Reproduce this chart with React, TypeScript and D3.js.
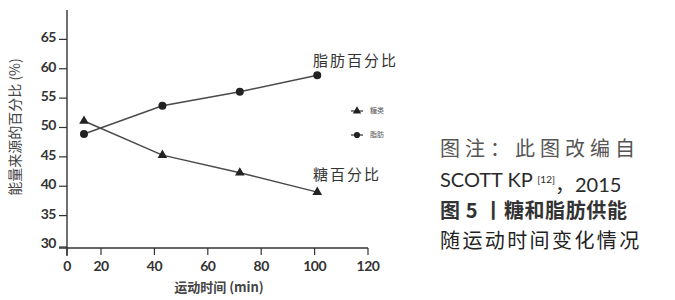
import React, { useEffect, useRef } from 'react';
import * as d3 from 'd3';

const times = [10, 43, 72, 101];
const fatPct = [48.9, 53.7, 56.1, 58.9];
const sugarPct = [51.1, 45.3, 42.3, 39.0];
const xTicks = [0, 20, 40, 60, 80, 100, 120];
const yTicks = [30, 35, 40, 45, 50, 55, 60, 65];
const noteLines = ['图注：此图改编自', 'SCOTT KP', '图 5 丨糖和脂肪供能', '随运动时间变化情况'];

const cjk = '"Noto Sans CJK SC", "Noto Sans", sans-serif';
const num = 'Lato, "Open Sans", sans-serif';
const ink = '#333';

const App: React.FC = () => {
  const svgRef = useRef<SVGSVGElement>(null);

  useEffect(() => {
    if (!svgRef.current) return;
    const svg = d3.select(svgRef.current);
    svg.selectAll('*').remove();

    // the x axis is broken between 0 and 20 (0 sits on the y axis)
    const x = d3.scaleLinear().domain([0, 20, 120]).range([67, 101, 368]);
    const y = d3.scaleLinear().domain([30, 70]).range([245, 10]);
    const axisY = 248;

    // y axis
    const ya = svg.append('g').attr('transform', `translate(${x(0)},0)`);
    ya.append('line').attr('y1', y(70)).attr('y2', axisY + 8)
      .attr('stroke', ink).attr('stroke-width', 1.4);
    yTicks.forEach(t => {
      const yy = t === 30 ? axisY - 1 : y(t);
      ya.append('line').attr('x1', -8).attr('x2', 0).attr('y1', yy).attr('y2', yy)
        .attr('stroke', ink).attr('stroke-width', 1.2);
      ya.append('text').attr('x', -11).attr('y', y(t) - 2).attr('dy', '0.35em')
        .attr('text-anchor', 'end').style('font-family', num).style('font-size', '14px')
        .style('font-weight', 'bold').style('letter-spacing', '-0.5px').style('fill', ink).text(t);
    });

    // x axis
    const xa = svg.append('g').attr('transform', `translate(0,${axisY})`);
    xa.append('line').attr('x1', x(0) - 8).attr('x2', x(120))
      .attr('stroke', ink).attr('stroke-width', 1.4);
    xTicks.forEach(t => {
      xa.append('line').attr('x1', x(t)).attr('x2', x(t)).attr('y1', 0).attr('y2', 7)
        .attr('stroke', ink).attr('stroke-width', 1.2);
      xa.append('text').attr('x', x(t)).attr('y', 18).attr('dy', '0.35em')
        .attr('text-anchor', 'middle').style('font-family', num).style('font-size', '14px')
        .style('font-weight', 'bold').style('letter-spacing', '-0.5px').style('fill', ink).text(t);
    });

    // axis titles
    svg.append('text').attr('x', 219).attr('y', 287).attr('dy', '0.35em')
      .attr('text-anchor', 'middle').style('font-family', cjk).style('font-size', '13px')
      .style('font-weight', 'bold').style('fill', '#444').text('运动时间 (min)');
    svg.append('text').attr('transform', 'translate(15,127) rotate(-90)').attr('dy', '0.35em')
      .attr('text-anchor', 'middle').style('font-family', cjk).style('font-size', '14px')
      .style('fill', '#444').text('能量来源的百分比 (%)');

    const line = d3.line<number>().x((_, i) => x(times[i])).y(d => y(d));
    const tri = d3.symbol().type(d3.symbolTriangle).size(40);
    const dot = d3.symbol().type(d3.symbolCircle).size(50);

    [sugarPct, fatPct].forEach(series => {
      svg.append('path').datum(series).attr('d', line)
        .attr('fill', 'none').attr('stroke', '#4a4a4a').attr('stroke-width', 1.5);
    });
    svg.selectAll('.tri').data(sugarPct).enter().append('path').attr('class', 'tri')
      .attr('d', tri).attr('transform', (d, i) => `translate(${x(times[i])},${y(d)})`)
      .attr('fill', '#222');
    svg.selectAll('.dot').data(fatPct).enter().append('path').attr('class', 'dot')
      .attr('d', dot).attr('transform', (d, i) => `translate(${x(times[i])},${y(d)})`)
      .attr('fill', '#222');

    // labels at line ends
    svg.append('text').attr('x', 313).attr('y', 61).attr('dy', '0.35em')
      .style('font-family', cjk).style('font-size', '15px').style('letter-spacing', '2px')
      .style('fill', ink).text('脂肪百分比');
    svg.append('text').attr('x', 313).attr('y', 175).attr('dy', '0.35em')
      .style('font-family', cjk).style('font-size', '15px').style('letter-spacing', '2px')
      .style('fill', ink).text('糖百分比');

    // legend
    const legend = [{ label: '糖类', sym: tri, yy: 111 }, { label: '脂肪', sym: dot, yy: 135 }];
    legend.forEach(l => {
      svg.append('line').attr('x1', 351).attr('x2', 363).attr('y1', l.yy).attr('y2', l.yy)
        .attr('stroke', '#333').attr('stroke-width', 1.2);
      svg.append('path').attr('d', l.sym.size(30)).attr('transform', `translate(357,${l.yy})`)
        .attr('fill', '#222');
      svg.append('text').attr('x', 370).attr('y', l.yy).attr('dy', '0.35em')
        .style('font-family', cjk).style('font-size', '7px').style('fill', '#555').text(l.label);
    });

    // side note
    const note = svg.append('g').style('font-family', cjk).style('font-size', '20px');
    note.append('text').attr('x', 440).attr('y', 149).attr('dy', '0.35em')
      .style('letter-spacing', '5px').style('fill', '#555').text(noteLines[0]);
    const l2 = note.append('text').attr('x', 440).attr('y', 180).attr('dy', '0.35em')
      .style('font-family', num).style('fill', '#2a2a2a');
    l2.append('tspan').text(noteLines[1] + ' ');
    l2.append('tspan').attr('dy', '-0.45em').style('font-size', '10px').text('[12]');
    l2.append('tspan').attr('dy', '0.45em').style('font-family', cjk).text('，');
    l2.append('tspan').text('2015');
    note.append('text').attr('x', 440).attr('y', 211).attr('dy', '0.35em')
      .style('font-weight', 'bold').style('letter-spacing', '0.6px').style('fill', '#333')
      .text(noteLines[2]);
    note.append('text').attr('x', 440).attr('y', 241).attr('dy', '0.35em')
      .style('letter-spacing', '2.4px').style('fill', '#222').text(noteLines[3]);
  }, []);

  return (
    <svg ref={svgRef} width={675} height={300}
      style={{ position: 'absolute', left: 0, top: 0, background: 'white' }} />
  );
};

export default App;
